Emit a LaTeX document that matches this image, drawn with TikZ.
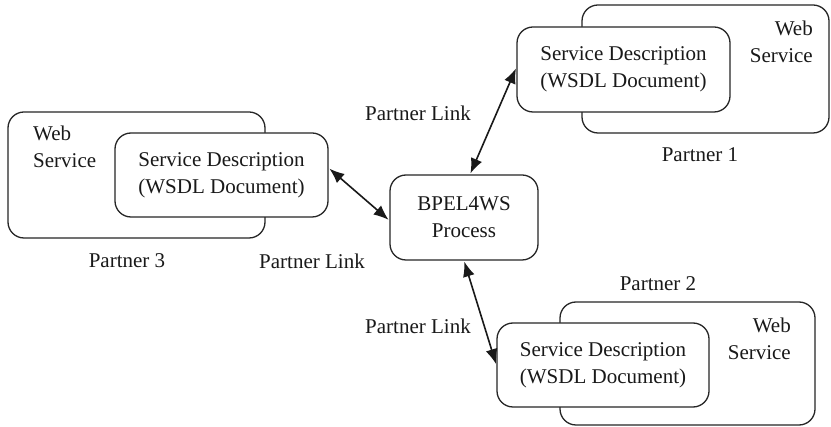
\documentclass[tikz,border=0pt]{standalone}
\usepackage{fontspec}
\setmainfont{Liberation Serif}
\usetikzlibrary{arrows.meta}
\tikzset{
  box/.style={draw=black!85, line width=1.3pt, rounded corners=16pt, fill=white, inner sep=0pt},
  lbl/.style={font=\fontsize{21}{27}\selectfont, text=black!90, inner sep=0pt},
  txt/.style={lbl, align=center},
  link/.style={line width=1.6pt, draw=black!90, {Latex[length=15pt,width=12pt]}-{Latex[length=15pt,width=12pt]}, shorten >=1pt, shorten <=1pt}
}
\begin{document}
\begin{tikzpicture}[x=1pt,y=-1pt]
  \path[fill=white] (0,0) rectangle (831,427);
  \useasboundingbox (0,0) rectangle (831,427);

  % central process
  \node[box, minimum width=148pt, minimum height=85pt, txt] (bpel) at (464,217.5) {BPEL4WS\\Process};

  % partner 3 (left)
  \node[box, minimum width=257pt, minimum height=126pt] (p3out) at (136.5,175) {};
  \node[lbl, align=left, anchor=north west] (p3ws) at (33,126) {Web\\Service};
  \node[box, minimum width=213pt, minimum height=84pt, txt] (p3in) at (221.5,175) {Service Description\\(WSDL Document)};
  \node[lbl] (p3name) at (127,261) {Partner 3};

  % partner 1 (top right)
  \node[box, minimum width=247pt, minimum height=128pt] (p1out) at (705.5,69) {};
  \node[lbl, align=right, anchor=north east] (p1ws) at (813,21) {Web\\Service};
  \node[box, minimum width=213pt, minimum height=85pt, txt] (p1in) at (623.5,69.5) {Service Description\\(WSDL Document)};
  \node[lbl] (p1name) at (700,155) {Partner 1};

  % partner 2 (bottom right)
  \node[box, minimum width=255pt, minimum height=123pt] (p2out) at (687.5,363.5) {};
  \node[lbl, align=right, anchor=north east] (p2ws) at (791,318) {Web\\Service};
  \node[box, minimum width=212pt, minimum height=84pt, txt] (p2in) at (603,365) {Service Description\\(WSDL Document)};
  \node[lbl] (p2name) at (658,284) {Partner 2};

  % partner links
  \draw[link] (bpel.82) -- ([yshift=2pt]p1in.west);
  \node[lbl] (l1) at (418,113) {Partner Link};
  \draw[link] ([yshift=-3pt]bpel.west) -- ([yshift=7pt]p3in.east);
  \node[lbl] (l3) at (312,261) {Partner Link};
  \draw[link] (bpel.south) -- (p2in.west);
  \node[lbl] (l2) at (418,326) {Partner Link};
\end{tikzpicture}
\end{document}
